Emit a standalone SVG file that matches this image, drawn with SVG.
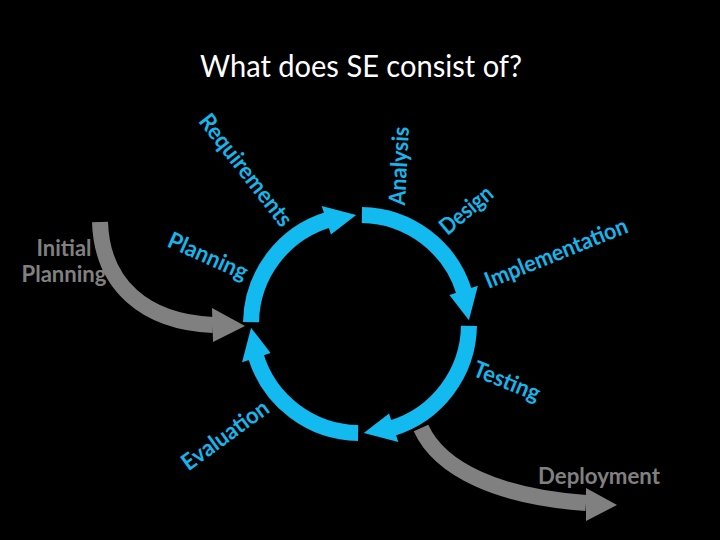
<svg xmlns="http://www.w3.org/2000/svg" xmlns:xlink="http://www.w3.org/1999/xlink" width="720" height="540" viewBox="0 0 720 540">
<style>
.bg{fill:#000}
.title{fill:#fff;font-family:Lato,"Open Sans",sans-serif;font-size:31px}
.lbl{fill:#16B6EC;font-family:Lato,"Open Sans",sans-serif;font-weight:bold;font-size:23px}
.glbl{fill:#808080;font-family:Lato,"Open Sans",sans-serif;font-weight:bold;font-size:22px}
.arc{fill:none;stroke:#12BAF0;stroke-width:16}
.head{fill:#12BAF0}
.garc{fill:none;stroke:#808080;stroke-width:16}
.ghead{fill:#808080}
</style>
<defs>
<g id="cyc">
<path class="arc" d="M251.02,322.10 A109,109 0 0,1 328.13,219.76"/>
<polygon class="head" points="330.95,234.60 321.68,206.07 356.20,215.07"/>
</g>
</defs>
<rect class="bg" x="0" y="0" width="720" height="540"/>
<text class="title" x="200" y="77" textLength="322" lengthAdjust="spacingAndGlyphs">What does SE consist of?</text>
<g id="connectors">
<g id="initial-arrow">
<path class="garc" d="M100,222 C102,285 145,322 213,325"/>
<polygon class="ghead" points="212,308 213,342 245,326"/>
</g>
<g id="deploy-arrow">
<path class="garc" d="M421,428 C440,470 500,497 586,503"/>
<polygon class="ghead" points="586,488 586,521 617,505"/>
</g>
<g id="cycle">
<use xlink:href="#cyc"/>
<use xlink:href="#cyc" transform="rotate(90 360 324)"/>
<use xlink:href="#cyc" transform="rotate(180 360 324)"/>
<use xlink:href="#cyc" transform="rotate(270 360 324)"/>
</g>
</g>
<g id="initial-planning"><text class="glbl" text-anchor="middle"><tspan x="64" y="256" textLength="55" lengthAdjust="spacingAndGlyphs">Initial</tspan><tspan x="64" y="282" textLength="85" lengthAdjust="spacingAndGlyphs">Planning</tspan></text></g>
<g id="deployment"><text class="glbl" x="538" y="484" textLength="122" lengthAdjust="spacingAndGlyphs">Deployment</text></g>
<g id="requirements"><text class="lbl" transform="translate(246,170) rotate(52)" x="0" y="8" text-anchor="middle" textLength="136" lengthAdjust="spacingAndGlyphs">Requirements</text></g>
<g id="analysis"><text class="lbl" transform="translate(399,166) rotate(-87)" x="0" y="8" text-anchor="middle" textLength="79" lengthAdjust="spacingAndGlyphs">Analysis</text></g>
<g id="design"><text class="lbl" transform="translate(466,210) rotate(-40)" x="0" y="8" text-anchor="middle" textLength="62" lengthAdjust="spacingAndGlyphs">Design</text></g>
<g id="implementation"><text class="lbl" transform="translate(556,253) rotate(-22)" x="0" y="8" text-anchor="middle" textLength="152" lengthAdjust="spacingAndGlyphs">Implementation</text></g>
<g id="planning"><text class="lbl" transform="translate(208,256) rotate(24)" x="0" y="8" text-anchor="middle" textLength="85" lengthAdjust="spacingAndGlyphs">Planning</text></g>
<g id="testing"><text class="lbl" transform="translate(507,381) rotate(22)" x="0" y="8" text-anchor="middle" textLength="70" lengthAdjust="spacingAndGlyphs">Testing</text></g>
<g id="evaluation"><text class="lbl" transform="translate(225,435) rotate(-36)" x="0" y="8" text-anchor="middle" textLength="102" lengthAdjust="spacingAndGlyphs">Evaluation</text></g>
</svg>
